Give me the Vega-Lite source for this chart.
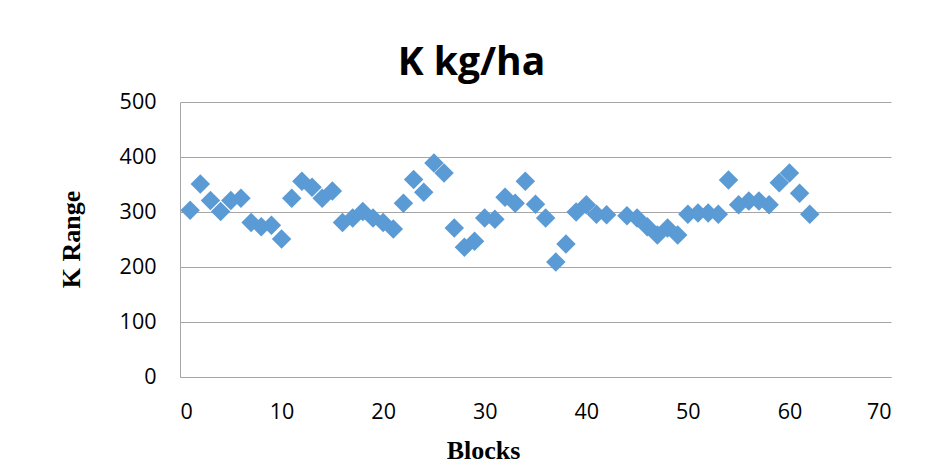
{
  "$schema": "https://vega.github.io/schema/vega-lite/v6.json",
  "width": 711,
  "height": 275,
  "autosize": {"type": "none"},
  "padding": {"left": 180, "top": 102, "right": 43, "bottom": 98},
  "background": "white",
  "title": {
    "text": "K kg/ha",
    "font": "Open Sans",
    "fontSize": 39,
    "fontWeight": "bold",
    "color": "black",
    "anchor": "middle",
    "dx": -64,
    "offset": 8
  },
  "config": {
    "view": {"stroke": null},
    "axis": {
      "labelFont": "Open Sans",
      "labelFontSize": 21.5,
      "labelColor": "black",
      "titleFont": "Liberation Serif",
      "titleFontSize": 26,
      "titleFontWeight": "bold",
      "titleColor": "black",
      "ticks": false,
      "domainColor": "#a6a6a6",
      "gridColor": "#a6a6a6",
      "domainWidth": 1,
      "gridWidth": 1
    }
  },
  "data": {
    "values": [
      {"block": 1, "k": 303}, {"block": 2, "k": 351}, {"block": 3, "k": 321},
      {"block": 4, "k": 301}, {"block": 5, "k": 321}, {"block": 6, "k": 325},
      {"block": 7, "k": 281}, {"block": 8, "k": 273}, {"block": 9, "k": 276},
      {"block": 10, "k": 251}, {"block": 11, "k": 325}, {"block": 12, "k": 356},
      {"block": 13, "k": 345}, {"block": 14, "k": 325}, {"block": 15, "k": 338},
      {"block": 16, "k": 281}, {"block": 17, "k": 289}, {"block": 18, "k": 301},
      {"block": 19, "k": 289}, {"block": 20, "k": 281}, {"block": 21, "k": 269},
      {"block": 22, "k": 316}, {"block": 23, "k": 359}, {"block": 24, "k": 336},
      {"block": 25, "k": 389}, {"block": 26, "k": 371}, {"block": 27, "k": 271},
      {"block": 28, "k": 236}, {"block": 29, "k": 247}, {"block": 30, "k": 289},
      {"block": 31, "k": 287}, {"block": 32, "k": 327}, {"block": 33, "k": 316},
      {"block": 34, "k": 356}, {"block": 35, "k": 314}, {"block": 36, "k": 289},
      {"block": 37, "k": 209}, {"block": 38, "k": 242}, {"block": 39, "k": 300},
      {"block": 40, "k": 313}, {"block": 41, "k": 296}, {"block": 42, "k": 295},
      {"block": 44, "k": 293}, {"block": 45, "k": 289}, {"block": 46, "k": 273},
      {"block": 47, "k": 258}, {"block": 48, "k": 271}, {"block": 49, "k": 258},
      {"block": 50, "k": 296}, {"block": 51, "k": 298}, {"block": 52, "k": 298},
      {"block": 53, "k": 296}, {"block": 54, "k": 358}, {"block": 55, "k": 313},
      {"block": 56, "k": 320}, {"block": 57, "k": 320}, {"block": 58, "k": 313},
      {"block": 59, "k": 353}, {"block": 60, "k": 371}, {"block": 61, "k": 334},
      {"block": 62, "k": 296}
    ]
  },
  "mark": {"type": "point", "shape": "diamond", "filled": true, "size": 380, "color": "#5B9BD5", "opacity": 1},
  "encoding": {
    "x": {
      "field": "block",
      "type": "quantitative",
      "title": "Blocks",
      "scale": {"domain": [0, 70], "nice": false, "zero": true},
      "axis": {"values": [0, 10, 20, 30, 40, 50, 60, 70], "grid": false, "labelPadding": 24, "titleX": 303, "titleY": 73, "titleBaseline": "middle"}
    },
    "y": {
      "field": "k",
      "type": "quantitative",
      "title": "K Range",
      "scale": {"domain": [0, 500], "nice": false},
      "axis": {"values": [0, 100, 200, 300, 400, 500], "grid": true, "labelPadding": 24, "titleX": -109, "titleY": 137, "titleBaseline": "middle"}
    }
  }
}
